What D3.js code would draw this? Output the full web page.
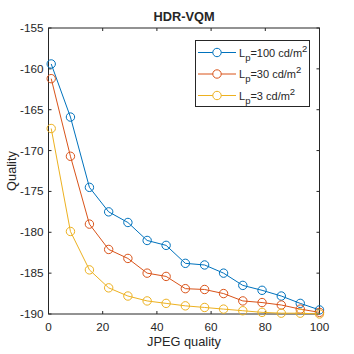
<!DOCTYPE html>
<html>
<head>
<meta charset="utf-8">
<script src="https://cdn.jsdelivr.net/npm/d3@7"></script>
<style>
  body { margin: 0; background: #fff; }
  text { font-family: "Liberation Sans", Arial, sans-serif; fill: #262626; }
</style>
</head>
<body>
<div class="chart"></div>
<script>
const jpegQuality = [1, 8.1, 15.1, 22.2, 29.3, 36.4, 43.4, 50.5, 57.6, 64.6, 71.7, 78.8, 85.9, 92.9, 100];

const lp100 = [-159.4, -165.9, -174.5, -177.5, -178.8, -181.0, -181.6, -183.8, -184.0, -185.0, -186.5, -187.1, -187.8, -188.7, -189.5];
const lp30 = [-161.2, -170.7, -179.0, -182.1, -183.2, -185.0, -185.4, -186.9, -187.0, -187.5, -188.4, -188.6, -188.9, -189.4, -189.8];
const lp3 = [-167.3, -179.9, -184.6, -186.8, -187.8, -188.4, -188.7, -189.0, -189.2, -189.4, -189.6, -189.8, -189.9, -189.9, -190.0];

const seriesNames = ["100", "30", "3"];
const seriesColors = ["#0072BD", "#D95319", "#EDB120"];

const xTicks = [0, 20, 40, 60, 80, 100];
const yTicks = [-155, -160, -165, -170, -175, -180, -185, -190];

const series = [lp100, lp30, lp3].map((vals, i) => ({
  name: seriesNames[i],
  color: seriesColors[i],
  points: vals.map((v, j) => ({x: jpegQuality[j], y: v}))
}));

const width = 354, height = 354;
const margin = {left: 48.5, right: 34.5, top: 28, bottom: 40};

const svg = d3.select(".chart").append("svg")
  .attr("width", width)
  .attr("height", height);

const x = d3.scaleLinear().domain([0, 100]).range([margin.left, width - margin.right]);
const y = d3.scaleLinear().domain([-190, -155]).range([height - margin.bottom, margin.top]);

const axisColor = "#262626";

// ticks pointing inward, MATLAB style
const tickLen = 3;
const g = svg.append("g");
g.selectAll(".xt").data(xTicks).enter().append("line")
  .attr("x1", d => x(d)).attr("x2", d => x(d))
  .attr("y1", y(-190)).attr("y2", y(-190) - tickLen)
  .attr("stroke", axisColor);
g.selectAll(".xtt").data(xTicks).enter().append("line")
  .attr("x1", d => x(d)).attr("x2", d => x(d))
  .attr("y1", y(-155)).attr("y2", y(-155) + tickLen)
  .attr("stroke", axisColor);
g.selectAll(".yt").data(yTicks).enter().append("line")
  .attr("x1", x(0)).attr("x2", x(0) + tickLen)
  .attr("y1", d => y(d)).attr("y2", d => y(d))
  .attr("stroke", axisColor);
g.selectAll(".ytr").data(yTicks).enter().append("line")
  .attr("x1", x(100)).attr("x2", x(100) - tickLen)
  .attr("y1", d => y(d)).attr("y2", d => y(d))
  .attr("stroke", axisColor);

svg.append("rect")
  .attr("x", x(0)).attr("y", y(-155))
  .attr("width", x(100) - x(0)).attr("height", y(-190) - y(-155))
  .attr("fill", "none")
  .attr("stroke", axisColor)
  .attr("stroke-width", 1);

svg.selectAll(".xl").data(xTicks).enter().append("text")
  .attr("x", d => x(d))
  .attr("y", y(-190) + 17)
  .attr("text-anchor", "middle")
  .attr("font-size", "11.7px")
  .text(d => d);

svg.selectAll(".yl").data(yTicks).enter().append("text")
  .attr("x", x(0) - 5)
  .attr("y", d => y(d) + 4)
  .attr("text-anchor", "end")
  .attr("font-size", "11.7px")
  .text(d => "-" + Math.abs(d));

const line = d3.line().x(d => x(d.x)).y(d => y(d.y));

series.forEach(s => {
  svg.append("path")
    .datum(s.points)
    .attr("d", line)
    .attr("fill", "none")
    .attr("stroke", s.color)
    .attr("stroke-width", 1);
  svg.selectAll(null).data(s.points).enter().append("circle")
    .attr("cx", d => x(d.x))
    .attr("cy", d => y(d.y))
    .attr("r", 4.2)
    .attr("fill", "none")
    .attr("stroke", s.color)
    .attr("stroke-width", 1);
});

svg.append("text")
  .attr("x", (x(0) + x(100)) / 2)
  .attr("y", 20.5)
  .attr("text-anchor", "middle")
  .attr("font-size", "12.8px")
  .attr("font-weight", "bold")
  .attr("fill", "#000")
  .text("HDR-VQM");

svg.append("text")
  .attr("x", (x(0) + x(100)) / 2)
  .attr("y", 346)
  .attr("text-anchor", "middle")
  .attr("font-size", "12.8px")
  .text("JPEG quality");

svg.append("text")
  .attr("transform", `translate(16, ${(y(-155) + y(-190)) / 2}) rotate(-90)`)
  .attr("text-anchor", "middle")
  .attr("font-size", "12.8px")
  .text("Quality");

// legend
const legend = svg.append("g");
legend.append("rect")
  .attr("x", 195.5).attr("y", 40.5)
  .attr("width", 114).attr("height", 66)
  .attr("fill", "#fff")
  .attr("stroke", axisColor);

series.forEach((s, i) => {
  const ly = 52.5 + i * 21.5;
  legend.append("line")
    .attr("x1", 198).attr("x2", 236)
    .attr("y1", ly).attr("y2", ly)
    .attr("stroke", s.color);
  legend.append("circle")
    .attr("cx", 217).attr("cy", ly).attr("r", 4.2)
    .attr("fill", "#fff")
    .attr("stroke", s.color);
  const t = legend.append("text")
    .attr("x", 239)
    .attr("y", ly + 4)
    .attr("font-size", "11px");
  t.append("tspan").text("L");
  t.append("tspan").attr("dy", 4).attr("font-size", "9.5px").text("p");
  t.append("tspan").attr("dy", -4).text("=" + s.name + " cd/m");
  t.append("tspan").attr("dy", -5).attr("font-size", "9.5px").text("2");
});
</script>
</body>
</html>
